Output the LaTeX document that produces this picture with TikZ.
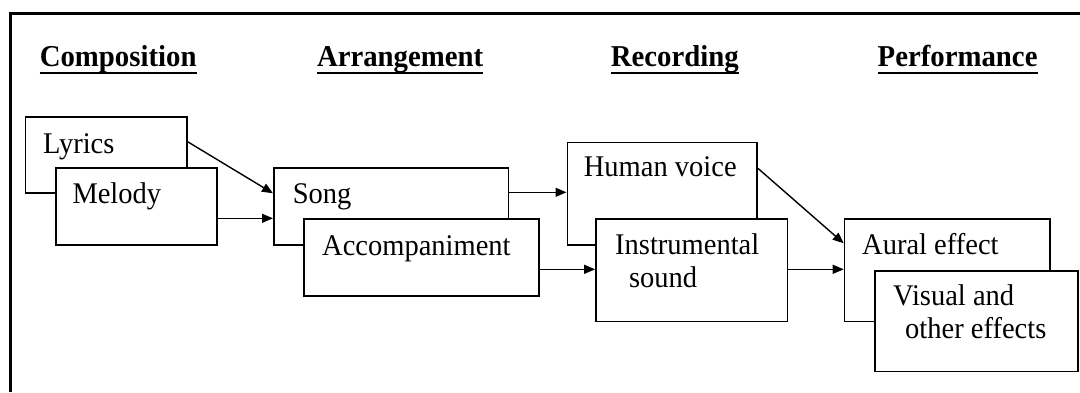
\documentclass[tikz,border=0pt]{standalone}
\usepackage{fontspec}
\setmainfont[FakeStretch=0.95]{Liberation Serif}
\usetikzlibrary{arrows.meta,calc}

\begin{document}
\begin{tikzpicture}[x=1pt,y=-1pt,
  box/.style={draw, line width=1.6pt, fill=white, inner sep=0pt, anchor=north west},
  txt/.style={inner sep=0pt, anchor=base west, font=\fontsize{30}{34}\selectfont},
  head/.style={inner sep=0pt, anchor=base west, font=\fontsize{30.3}{35}\selectfont\bfseries},
  flow/.style={line width=1.4pt, -{Triangle[length=11pt,width=9pt]}},
  uline/.style={line width=2.2pt}]
\useasboundingbox (0,0) rectangle (1080,392);

% outer frame (open at right and bottom)
\draw[line width=3pt] (10,392) -- (10,13.7) -- (1080,13.7);

% stage headings
\node[head] (hcomp) at (39.6,66.7) {Composition};
\node[head] (harr)  at (316.8,66.7) {Arrangement};
\node[head] (hrec)  at (610.6,66.7) {Recording};
\node[head] (hperf) at (877.5,66.7) {Performance};
\foreach \h in {hcomp,harr,hrec,hperf}
  \draw[uline] ([yshift=-6pt]\h.base west) -- ([yshift=-6pt]\h.base east);

% composition
\node[box, minimum width=161.2pt, minimum height=76.3pt] (lyrics) at (24.8,116) {};
\node[txt] (lyricsT) at (43,153.3) {Lyrics};
\node[box, minimum width=161pt, minimum height=76.7pt] (melody) at (55,167.3) {};
\node[txt] (melodyT) at (72.3,203.3) {Melody};

% arrangement
\node[box, minimum width=234.6pt, minimum height=76.7pt] (song) at (273,167.3) {};
\node[txt] (songT) at (292.7,203.3) {Song};
\node[box, minimum width=234.5pt, minimum height=76.7pt] (accomp) at (303.4,218.3) {};
\node[txt] (accompT) at (322,255) {Accompaniment};

% recording
\node[box, minimum width=189.8pt, minimum height=102.3pt] (voice) at (566.5,141.7) {};
\node[txt] (voiceT) at (583.7,176.7) {Human voice};
\node[box, minimum width=191.5pt, minimum height=102.4pt] (instr) at (595.1,218.3) {};
\node[txt] (instrT1) at (615,254) {Instrumental};
\node[txt] (instrT2) at (628.8,287.3) {sound};

% performance
\node[box, minimum width=205.3pt, minimum height=102.4pt] (aural) at (843.7,218.3) {};
\node[txt] (auralT) at (862,254) {Aural effect};
\node[box, minimum width=203pt, minimum height=100.7pt] (visual) at (874,270) {};
\node[txt] (visualT1) at (893,305) {Visual and};
\node[txt] (visualT2) at (905,338.3) {other effects};

% connectors
\draw[flow] ([yshift=-25.7pt]lyrics.north east) -- ([yshift=-26pt]song.north west);
\draw[flow] ([yshift=-51pt]melody.north east) -- ([yshift=-51pt]song.north west);
\draw[flow] ([yshift=-25pt]song.north east) -- ([yshift=-50.6pt]voice.north west);
\draw[flow] ([yshift=-51pt]accomp.north east) -- ([yshift=-51pt]instr.north west);
\draw[flow] ([yshift=-26.6pt]voice.north east) -- ([yshift=-25pt]aural.north west);
\draw[flow] ([yshift=-51pt]instr.north east) -- ([yshift=-51pt]aural.north west);
\end{tikzpicture}
\end{document}
